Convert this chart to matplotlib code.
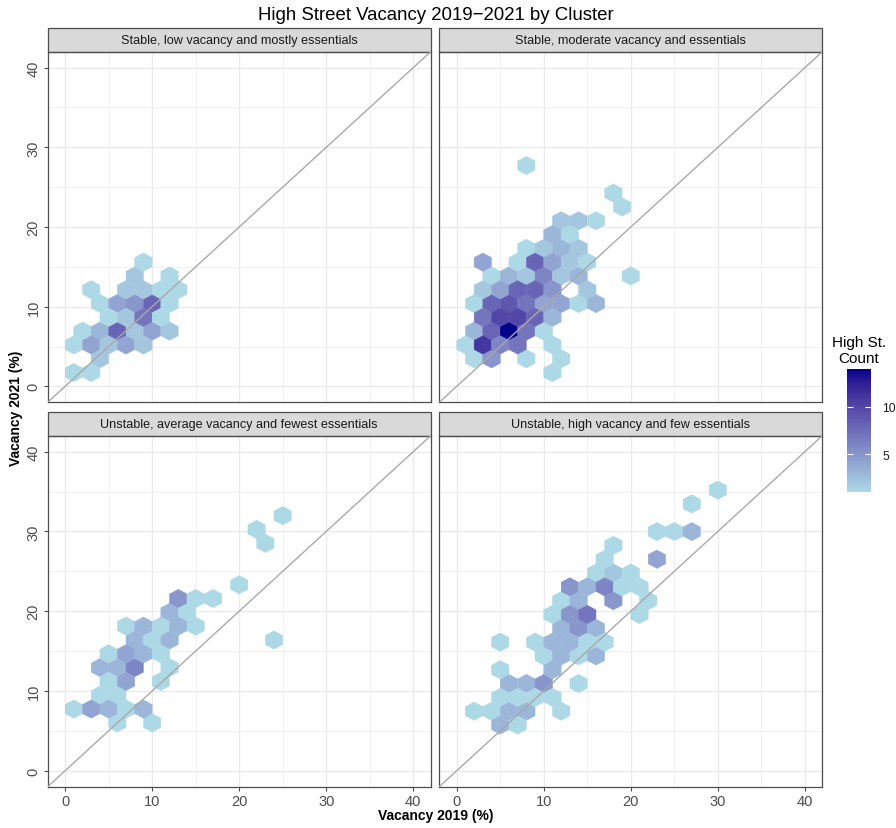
import numpy as np
import matplotlib.pyplot as plt
from matplotlib.colors import LinearSegmentedColormap, Normalize
from matplotlib.cm import ScalarMappable
from matplotlib.patches import Rectangle

plt.rcParams['font.family'] = ['Liberation Sans', 'DejaVu Sans']

# hex bin centres (Vacancy 2019, Vacancy 2021) and high street counts per cluster
panel_titles = [
    "Stable, low vacancy and mostly essentials",
    "Stable, moderate vacancy and essentials",
    "Unstable, average vacancy and fewest essentials",
    "Unstable, high vacancy and few essentials",
]

low_x = [1, 3, 4, 1, 3, 5, 7, 9, 2, 4, 6, 8, 10, 12, 5, 7, 9, 11,
         4, 6, 8, 10, 12, 3, 7, 9, 11, 13, 8, 12, 9]
low_y = [1.73, 1.73, 3.46, 5.20, 5.20, 5.20, 5.20, 5.20, 6.93, 6.93, 6.93, 6.93, 6.93, 6.93,
         8.66, 8.66, 8.66, 8.66, 10.39, 10.39, 10.39, 10.39, 10.39,
         12.12, 12.12, 12.12, 12.12, 12.12, 13.86, 13.86, 15.59]
low_n = [1, 1, 2, 1, 4, 2, 4, 2, 1, 3, 8, 2, 4, 2, 1, 2, 7, 1,
         1, 4, 5, 8, 1, 1, 2, 2, 1, 1, 2, 1, 1]

mod_x = [11, 2, 4, 8, 12, 1, 3, 5, 7, 11, 2, 4, 6, 8, 10, 3, 5, 7, 9, 11,
         2, 4, 6, 8, 10, 12, 14, 16, 3, 5, 7, 9, 11, 15,
         4, 6, 8, 10, 12, 14, 20, 3, 7, 9, 11, 13, 15,
         8, 10, 12, 14, 11, 13, 12, 14, 16, 19, 18, 8]
mod_y = [1.73, 3.46, 3.46, 3.46, 3.46, 5.20, 5.20, 5.20, 5.20, 5.20,
         6.93, 6.93, 6.93, 6.93, 6.93, 8.66, 8.66, 8.66, 8.66, 8.66,
         10.39, 10.39, 10.39, 10.39, 10.39, 10.39, 10.39, 10.39,
         12.12, 12.12, 12.12, 12.12, 12.12, 12.12,
         13.86, 13.86, 13.86, 13.86, 13.86, 13.86, 13.86,
         15.59, 15.59, 15.59, 15.59, 15.59, 15.59,
         17.32, 17.32, 17.32, 17.32, 19.05, 19.05, 20.78, 20.78, 20.78,
         22.52, 24.25, 27.71]
mod_n = [1, 1, 5, 1, 1, 1, 11, 6, 7, 1, 3, 8, 14, 7, 1, 7, 10, 10, 8, 3,
         1, 8, 9, 7, 4, 4, 1, 3, 2, 4, 8, 8, 5, 2,
         1, 3, 2, 6, 2, 3, 1, 4, 1, 8, 4, 2, 1,
         1, 2, 3, 2, 3, 1, 2, 2, 1, 1, 1, 1]

avg_x = [6, 10, 1, 3, 5, 7, 9, 4, 6, 5, 7, 11, 4, 6, 8, 12, 5, 7, 9, 11,
         8, 10, 12, 24, 7, 9, 11, 13, 15, 12, 14, 13, 15, 17, 20, 23, 22, 25]
avg_y = [6.0, 6.0, 7.73, 7.73, 7.73, 7.73, 7.73, 9.46, 9.46, 11.20, 11.20, 11.20,
         12.93, 12.93, 12.93, 12.93, 14.66, 14.66, 14.66, 14.66,
         16.39, 16.39, 16.39, 16.39, 18.12, 18.12, 18.12, 18.12, 18.12,
         19.86, 19.86, 21.59, 21.59, 21.59, 23.32, 28.52, 30.25, 31.98]
avg_n = [1, 1, 1, 4, 3, 1, 3, 1, 1, 1, 4, 1, 3, 3, 6, 1, 1, 4, 3, 1,
         3, 1, 3, 1, 1, 3, 1, 3, 1, 3, 1, 5, 1, 1, 1, 1, 1, 1]

high_x = [5, 7, 2, 4, 6, 8, 12, 5, 7, 9, 11, 6, 8, 10, 14, 5, 11,
          10, 12, 14, 16, 5, 9, 11, 13, 15, 17, 12, 14, 16,
          11, 13, 15, 21, 12, 14, 18, 22, 13, 15, 17, 19, 21,
          16, 18, 20, 17, 23, 18, 23, 25, 27, 27, 30]
high_y = [5.73, 5.73, 7.46, 7.46, 7.46, 7.46, 7.46, 9.20, 9.20, 9.20, 9.20,
          10.93, 10.93, 10.93, 10.93, 12.66, 12.66,
          14.39, 14.39, 14.39, 14.39, 16.12, 16.12, 16.12, 16.12, 16.12, 16.12,
          17.86, 17.86, 17.86, 19.59, 19.59, 19.59, 19.59,
          21.32, 21.32, 21.32, 21.32, 23.05, 23.05, 23.05, 23.05, 23.05,
          24.78, 24.78, 24.78, 26.52, 26.52, 28.25, 29.98, 29.98, 29.98, 33.44, 35.18]
high_n = [3, 1, 1, 1, 3, 3, 1, 1, 1, 1, 1, 3, 3, 5, 1, 1, 3,
          1, 3, 1, 3, 1, 1, 3, 3, 1, 1, 3, 5, 3,
          1, 5, 7, 1, 1, 3, 5, 1, 5, 3, 6, 1, 1,
          1, 2, 1, 1, 4, 1, 1, 1, 3, 1, 1]

panel_x = [low_x, mod_x, avg_x, high_x]
panel_y = [low_y, mod_y, avg_y, high_y]
panel_n = [low_n, mod_n, avg_n, high_n]
grid_base = [0, 0, 6, 4]  # lower y bound of each panel's hex grid


# ggplot style gradient: lightblue -> darkblue interpolated in CIELAB
M = np.array([[0.4124, 0.3576, 0.1805], [0.2126, 0.7152, 0.0722], [0.0193, 0.1192, 0.9505]])
WHITE = np.array([0.95047, 1.0, 1.08883])


def hex_to_lab(h):
    rgb = np.array([int(h[i:i + 2], 16) for i in (1, 3, 5)]) / 255
    lin = np.where(rgb <= 0.04045, rgb / 12.92, ((rgb + 0.055) / 1.055) ** 2.4)
    xyz = M @ lin / WHITE
    f = np.where(xyz > 0.008856, np.cbrt(xyz), 7.787 * xyz + 16 / 116)
    return np.array([116 * f[1] - 16, 500 * (f[0] - f[1]), 200 * (f[1] - f[2])])


def lab_to_rgb(lab):
    fy = (lab[0] + 16) / 116
    f = np.array([fy + lab[1] / 500, fy, fy - lab[2] / 200])
    xyz = np.where(f ** 3 > 0.008856, f ** 3, (f - 16 / 116) / 7.787) * WHITE
    lin = np.clip(np.linalg.inv(M) @ xyz, 0, None)
    rgb = np.where(lin <= 0.0031308, 12.92 * lin, 1.055 * lin ** (1 / 2.4) - 0.055)
    return np.clip(rgb, 0, 1)


lab_lo, lab_hi = hex_to_lab("#ADD8E6"), hex_to_lab("#00008B")
cmap = LinearSegmentedColormap.from_list(
    "hexfill", [lab_to_rgb(lab_lo + t * (lab_hi - lab_lo)) for t in np.linspace(0, 1, 256)])
all_n = np.concatenate(panel_n)
norm = Normalize(vmin=all_n.min(), vmax=all_n.max())

W, H = 896, 829
fig = plt.figure(figsize=(W / 100, H / 100), dpi=100)
fig.patch.set_facecolor("white")

boxes = [(47.7, 52.7, 430.7, 403.3), (439.3, 52.7, 822.3, 403.3),
         (47.7, 436.7, 430.7, 787.7), (439.3, 436.7, 822.3, 787.7)]
strip_h = 23.5
sx, sy = 2.0, 2 * np.sqrt(3)

for i, (l, t, r, b) in enumerate(boxes):
    ax = fig.add_axes([l / W, 1 - b / H, (r - l) / W, (b - t) / H])
    base = grid_base[i]
    ax.hexbin(panel_x[i], panel_y[i], C=panel_n[i], reduce_C_function=np.sum,
              gridsize=(21, 12), extent=(0, 21 * sx, base, base + 12 * sy),
              cmap=cmap, norm=norm, linewidths=0.3, edgecolors="face", zorder=2)
    ax.axline((0, 0), slope=1, color="#A9A9A9", lw=1.0, zorder=3)

    ax.set_xlim(-2, 42)
    ax.set_ylim(-2, 42)
    ax.set_xticks([0, 10, 20, 30, 40])
    ax.set_yticks([0, 10, 20, 30, 40])
    ax.set_xticks([5, 15, 25, 35], minor=True)
    ax.set_yticks([5, 15, 25, 35], minor=True)
    ax.set_axisbelow(True)
    ax.grid(which="major", color="#EBEBEB", lw=1.0)
    ax.grid(which="minor", color="#EBEBEB", lw=0.5)
    for sp in ax.spines.values():
        sp.set_color("#4D4D4D")
        sp.set_linewidth(0.9)
    ax.tick_params(which="minor", length=0)
    ax.tick_params(which="major", length=3.2, width=0.8, color="#4D4D4D",
                   labelsize=10.5, labelcolor="#4D4D4D", pad=2)
    left_col = i in (0, 2)
    bottom_row = i in (2, 3)
    ax.tick_params(axis="y", left=left_col, labelleft=left_col)
    ax.tick_params(axis="x", bottom=bottom_row, labelbottom=bottom_row)
    if left_col:
        for lab in ax.get_yticklabels():
            lab.set_rotation(90)
            lab.set_va("center")

    frac = strip_h / (b - t)
    ax.add_patch(Rectangle((0, 1), 1, frac, transform=ax.transAxes, clip_on=False,
                           facecolor="#D9D9D9", edgecolor="#4D4D4D", lw=0.9))
    ax.text(0.5, 1 + frac / 2, panel_titles[i], transform=ax.transAxes,
            ha="center", va="center", fontsize=9.1, color="#1A1A1A")

fig.text(436 / W, 1 - 16 / H, "High Street Vacancy 2019\u22122021 by Cluster",
         ha="center", va="center", fontsize=13.4)
fig.text(436 / W, 1 - 816 / H, "Vacancy 2019 (%)", ha="center", va="center",
         fontsize=10, fontweight="bold")
fig.text(16 / W, 1 - 408 / H, "Vacancy 2021 (%)", ha="center", va="center",
         rotation=90, fontsize=10, fontweight="bold")

cax = fig.add_axes([847.3 / W, 1 - 493.3 / H, 23.7 / W, 123.3 / H])
cb = fig.colorbar(ScalarMappable(norm=norm, cmap=cmap), cax=cax, ticks=[5, 10])
cb.outline.set_visible(False)
cax.tick_params(direction="in", length=4.5, width=0.8, color="white",
                left=True, right=True, labelsize=8.8, labelcolor="#1A1A1A", pad=8)
fig.text(859 / W, 1 - 366 / H, "High St.\nCount", ha="center", va="bottom",
         fontsize=11, linespacing=1.15)

fig.savefig("out.png", dpi=100)
